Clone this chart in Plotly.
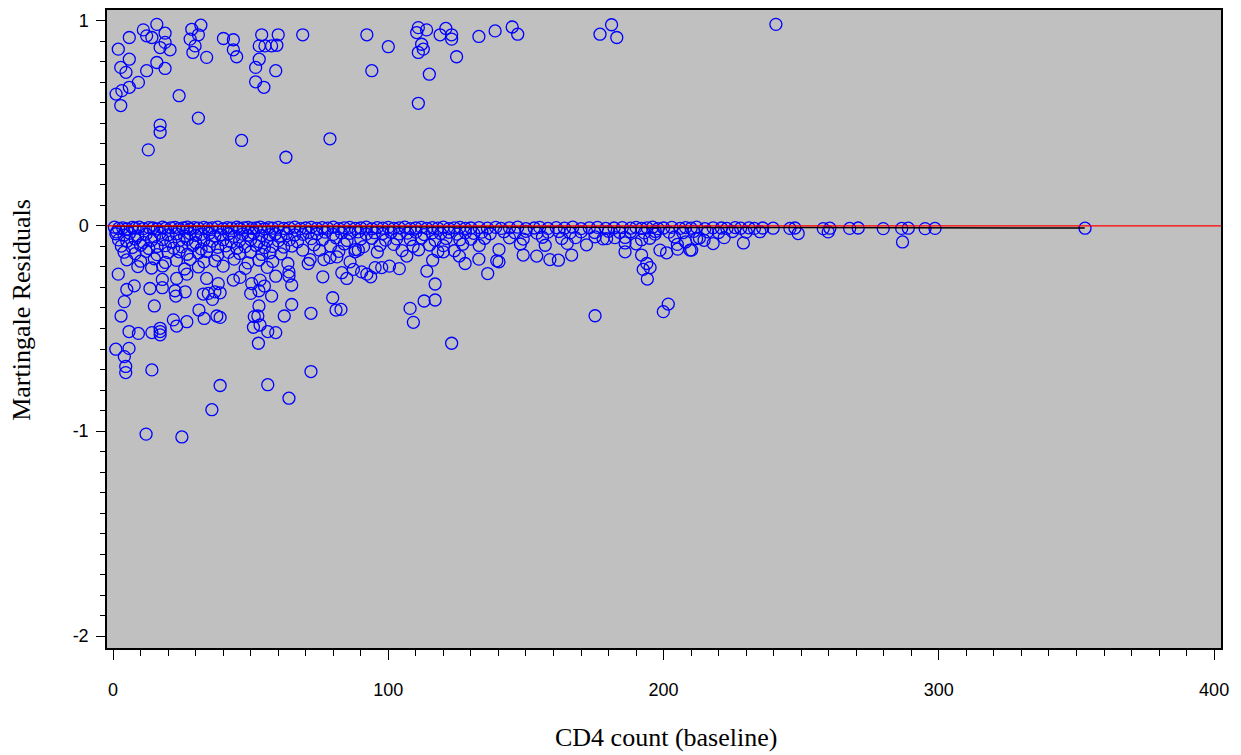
import plotly.graph_objects as go

# ---- positive residuals (events) ----
event_x = [1.9, 5.9, 5.9, 2.8, 4.7, 1.1, 3.2, 2.8, 5.9, 9.2, 12.2, 11.0, 12.2, 14.1, 15.9,
           18.9, 18.9, 17.1, 20.7, 15.9, 18.9, 24.0, 17.1, 17.1, 12.8, 28.6, 31.9, 31.0,
           28.0, 29.8, 29.0, 34.0, 31.0, 40.1, 43.7, 43.7, 44.9, 46.7, 54.0, 53.1, 55.2,
           57.6, 59.5, 60.0, 53.1, 51.8, 59.1, 51.8, 54.8, 68.9, 78.8, 62.8, 92.2, 94.0,
           100.0, 110.9, 110.3, 113.9, 112.1, 112.7, 110.9, 114.9, 110.9, 118.8, 120.9,
           123.0, 123.0, 124.8, 132.9, 138.8, 145.0, 147.0, 176.9, 181.1, 183.0, 240.8]
event_y = [0.862, 0.919, 0.813, 0.773, 0.749, 0.643, 0.660, 0.587, 0.676, 0.700, 0.757,
           0.956, 0.927, 0.919, 0.983, 0.940, 0.895, 0.870, 0.859, 0.797, 0.768, 0.635,
           0.492, 0.457, 0.371, 0.959, 0.979, 0.932, 0.911, 0.878, 0.846, 0.822, 0.526,
           0.914, 0.908, 0.859, 0.825, 0.417, 0.932, 0.878, 0.878, 0.878, 0.881, 0.932,
           0.813, 0.773, 0.757, 0.703, 0.676, 0.932, 0.425, 0.335, 0.932, 0.757, 0.874,
           0.967, 0.943, 0.956, 0.886, 0.862, 0.846, 0.740, 0.598, 0.932, 0.963, 0.932,
           0.911, 0.825, 0.924, 0.951, 0.970, 0.935, 0.935, 0.981, 0.919, 0.983]

# ---- scattered negative residuals (censored) ----
neg_x = [1.3, 1.9, 5.0, 7.7, 4.1, 2.9, 5.8, 9.2, 14.1, 17.1, 17.1, 17.1, 1.0, 5.8, 4.1, 4.6,
         4.6, 14.1, 15.0, 13.4, 17.9, 17.9, 23.1, 26.8, 22.5, 22.8, 26.2, 21.9, 23.1, 26.8,
         31.2, 33.1, 34.0, 32.8, 34.6, 36.1, 37.0, 38.2, 38.9, 37.7, 38.9, 38.9, 35.9, 25.0,
         12.0, 43.7, 46.1, 50.4, 53.4, 55.0, 53.0, 50.0, 57.6, 59.1, 53.0, 52.6, 51.3, 53.4,
         51.0, 56.2, 59.1, 52.8, 56.2, 63.9, 64.9, 62.2, 64.9, 63.9, 63.9, 63.5, 71.9, 71.9,
         79.8, 81.0, 82.8, 76.2, 70.9, 71.6, 68.9, 76.6, 78.8, 81.3, 83.1, 84.9, 87.3, 90.3,
         92.2, 93.6, 95.2, 97.6, 100.4, 104.0, 86.1, 87.9, 89.1, 107.9, 109.1, 113.0, 117.0,
         117.0, 114.0, 116.1, 123.0, 127.9, 132.9, 136.1, 139.4, 120.0, 125.8, 106.7, 149.0,
         153.9, 158.7, 161.8, 166.6, 140.2, 140.2, 175.1, 186.0, 186.0, 192.0, 193.9, 195.1,
         192.6, 194.1, 199.9, 201.7, 198.7, 201.1, 205.1, 209.6, 208.0, 175.1, 179.3, 182.3,
         192.0, 196.9, 210.2, 212.0, 214.7, 229.0, 286.8, 248.9, 259.8]
neg_y = [-0.029, -0.235, -0.310, -0.292, -0.369, -0.439, -0.515, -0.524, -0.520, -0.499,
         -0.515, -0.531, -0.601, -0.597, -0.637, -0.685, -0.715, -0.702, -0.390, -0.305,
         -0.261, -0.301, -0.256, -0.235, -0.316, -0.342, -0.321, -0.458, -0.488, -0.467,
         -0.410, -0.451, -0.256, -0.332, -0.329, -0.358, -0.321, -0.281, -0.326, -0.439,
         -0.446, -0.778, -0.896, -1.029, -1.015, -0.264, -0.251, -0.281, -0.264, -0.293,
         -0.316, -0.329, -0.342, -0.245, -0.390, -0.439, -0.442, -0.483, -0.494, -0.515,
         -0.520, -0.572, -0.774, -0.840, -0.383, -0.439, -0.288, -0.224, -0.245, -0.183,
         -0.426, -0.710, -0.350, -0.410, -0.407, -0.248, -0.183, -0.164, -0.118, -0.164,
         -0.154, -0.151, -0.228, -0.256, -0.212, -0.224, -0.235, -0.248, -0.203, -0.203,
         -0.196, -0.208, -0.175, -0.126, -0.118, -0.402, -0.470, -0.366, -0.361, -0.283,
         -0.220, -0.167, -0.572, -0.183, -0.162, -0.232, -0.170, -0.126, -0.147, -0.147,
         -0.142, -0.147, -0.164, -0.167, -0.142, -0.115, -0.175, -0.438, -0.083, -0.126,
         -0.142, -0.183, -0.203, -0.212, -0.259, -0.418, -0.381, -0.118, -0.131, -0.113,
         -0.118, -0.078, -0.053, -0.062, -0.057, -0.067, -0.040, -0.118, -0.062, -0.070,
         -0.083, -0.078, -0.037, -0.029]

# ---- dense band just below zero ----
band_x = [0.5, 2, 3.5, 5, 7, 8, 9.5, 11, 13, 14.5, 16, 18, 19, 21, 22.5, 24, 25.5, 27, 28,
          29.5, 31, 33, 34.5, 36, 38, 40, 41.5, 43, 45, 46, 47.5, 49, 50.5, 52, 53.5, 55,
          56.5, 58, 60, 62, 64, 66, 68, 70, 72, 74, 76, 78, 80, 82, 84, 86, 88, 90, 92, 94,
          96, 98, 100, 102, 104, 106, 108, 110, 112, 114, 116, 118, 120, 122, 124, 126, 128,
          130, 133, 136, 139, 141, 144, 147, 150, 153, 155, 158, 161, 164, 167, 170, 173,
          176, 179, 182, 185, 188, 190, 192, 194, 196, 198, 200, 203, 206, 208, 210, 212,
          215, 218, 221, 223, 226, 228, 231, 233, 236, 239.8, 245.9, 247.7, 258.0, 260.4,
          267.6, 270.7, 279.8, 286.5, 288.9, 295.0, 298.6, 353.1,
          1, 4, 6, 9, 12, 15, 17, 20, 23, 26, 28, 30, 32, 35, 37, 39, 42, 44, 47, 49, 51,
          54, 57, 59, 61, 63, 66, 69,
          2, 5, 8, 11, 14, 18, 21, 24, 27, 30, 33, 36, 40, 43, 46, 50, 53, 56, 60, 64, 67,
          3, 7, 10, 13, 16, 19, 22, 25, 29, 32, 35, 38, 41, 45, 48, 52, 55, 58, 62, 65,
          4, 8, 12, 16, 20, 24, 27, 31, 34, 38, 42, 46, 50, 54, 57, 61,
          5, 10, 15, 19, 23, 28, 33, 37, 44, 49, 53, 58,
          9, 14, 18, 26, 31, 40, 48, 56,
          71, 74, 77, 80, 83, 86, 89, 92, 95, 98, 101, 104, 107, 110, 113, 116, 119, 122,
          125, 128, 131, 134, 137,
          72, 76, 81, 85, 90, 94, 99, 103, 108, 112, 117, 121, 126, 130, 135,
          73, 79, 84, 91, 97, 102, 109, 115, 120, 127, 133,
          75, 82, 88, 96, 105, 111, 118, 124,
          142, 146, 150, 154, 158, 162, 166, 170, 175, 180, 184, 188, 193, 197, 202, 207,
          211, 216, 220, 225, 230, 235,
          144, 149, 156, 163, 168, 178, 186, 195, 204, 213, 222,
          148, 157, 165, 172, 190, 205, 218]
band_y = [-0.006, -0.012, -0.009, -0.015, -0.007, -0.011, -0.006, -0.013, -0.008, -0.010,
          -0.014, -0.006, -0.012, -0.009, -0.007, -0.013, -0.010, -0.006, -0.015, -0.008,
          -0.011, -0.007, -0.012, -0.009, -0.006, -0.014, -0.008, -0.011, -0.006, -0.013,
          -0.009, -0.007, -0.012, -0.010, -0.006, -0.014, -0.008, -0.011, -0.007, -0.012,
          -0.009, -0.006, -0.013, -0.010, -0.007, -0.012, -0.008, -0.011, -0.006, -0.013,
          -0.009, -0.007, -0.012, -0.010, -0.006, -0.014, -0.008, -0.011, -0.007, -0.012,
          -0.009, -0.006, -0.013, -0.010, -0.007, -0.012, -0.008, -0.011, -0.006, -0.013,
          -0.009, -0.007, -0.012, -0.010, -0.008, -0.011, -0.007, -0.012, -0.009, -0.006,
          -0.013, -0.010, -0.007, -0.012, -0.008, -0.011, -0.006, -0.013, -0.009, -0.007,
          -0.012, -0.010, -0.008, -0.011, -0.007, -0.012, -0.009, -0.006, -0.013, -0.010,
          -0.007, -0.012, -0.008, -0.011, -0.006, -0.013, -0.009, -0.010, -0.012, -0.008,
          -0.011, -0.009, -0.012, -0.010, -0.011, -0.012, -0.010, -0.013, -0.011, -0.012,
          -0.010, -0.013, -0.012, -0.011, -0.013, -0.012, -0.011,
          -0.038, -0.045, -0.036, -0.048, -0.040, -0.052, -0.035, -0.044, -0.039, -0.050,
          -0.037, -0.046, -0.041, -0.036, -0.049, -0.043, -0.038, -0.051, -0.040, -0.045,
          -0.036, -0.047, -0.042, -0.039, -0.050, -0.037, -0.044, -0.041,
          -0.068, -0.075, -0.064, -0.080, -0.070, -0.066, -0.078, -0.072, -0.065, -0.082,
          -0.069, -0.074, -0.067, -0.079, -0.071, -0.066, -0.076, -0.070, -0.073, -0.068,
          -0.077,
          -0.098, -0.105, -0.094, -0.110, -0.100, -0.096, -0.108, -0.102, -0.095, -0.112,
          -0.099, -0.104, -0.097, -0.109, -0.101, -0.095, -0.106, -0.100, -0.103, -0.098,
          -0.128, -0.135, -0.124, -0.140, -0.130, -0.126, -0.138, -0.132, -0.125, -0.142,
          -0.129, -0.134, -0.127, -0.139, -0.131, -0.136,
          -0.165, -0.172, -0.160, -0.178, -0.168, -0.163, -0.175, -0.170, -0.162, -0.180,
          -0.166, -0.173,
          -0.198, -0.205, -0.195, -0.210, -0.200, -0.196, -0.207, -0.202,
          -0.032, -0.038, -0.030, -0.041, -0.034, -0.036, -0.029, -0.040, -0.033, -0.037,
          -0.031, -0.039, -0.035, -0.030, -0.042, -0.034, -0.037, -0.031, -0.040, -0.033,
          -0.036, -0.030, -0.038,
          -0.062, -0.068, -0.058, -0.071, -0.064, -0.060, -0.069, -0.063, -0.066, -0.059,
          -0.070, -0.061, -0.067, -0.064, -0.060,
          -0.092, -0.098, -0.088, -0.101, -0.094, -0.090, -0.099, -0.093, -0.096, -0.089,
          -0.095,
          -0.118, -0.124, -0.115, -0.127, -0.120, -0.116, -0.125, -0.121,
          -0.028, -0.033, -0.026, -0.035, -0.030, -0.027, -0.034, -0.029, -0.032, -0.026,
          -0.031, -0.028, -0.034, -0.027, -0.030, -0.033, -0.026, -0.029, -0.032, -0.027,
          -0.030, -0.028,
          -0.058, -0.064, -0.055, -0.061, -0.057, -0.063, -0.056, -0.060, -0.054, -0.059,
          -0.057,
          -0.088, -0.094, -0.085, -0.092, -0.087, -0.090, -0.086]

# ---- smoother ----
smooth_x = [0, 50, 100, 150, 200, 250, 300, 353]
smooth_y = [-0.002, -0.004, -0.005, -0.006, -0.007, -0.008, -0.009, -0.010]

x_ticks = [0, 100, 200, 300, 400]
y_ticks = [-2, -1, 0, 1]

all_x = event_x + neg_x + band_x
all_y = event_y + neg_y + band_y

fig = go.Figure()
fig.add_trace(go.Scatter(
    x=all_x, y=all_y, mode="markers",
    marker=dict(symbol="circle-open", size=12, color="#0000FF",
                line=dict(width=1.3, color="#0000FF")),
    showlegend=False, hoverinfo="skip"))
fig.add_trace(go.Scatter(
    x=smooth_x, y=smooth_y, mode="lines",
    line=dict(color="black", width=1.5), showlegend=False, hoverinfo="skip"))
fig.add_hline(y=0, line=dict(color="#FF0000", width=1.2))

# page body has an 8px margin, so the figure is sized/offset to compensate
fig.update_layout(
    width=1233, height=747,
    margin=dict(l=99, r=20, t=0, b=107),
    paper_bgcolor="white", plot_bgcolor="#C0C0C0",
    font=dict(family="Liberation Sans, Arial, sans-serif", size=18, color="black"),
)
fig.update_xaxes(
    range=[-2.2, 402.5], tickvals=x_ticks, ticktext=[str(v) for v in x_ticks],
    showgrid=False, zeroline=False, showline=True, linecolor="black", linewidth=1.5,
    mirror=True, ticks="outside", ticklen=10, tickwidth=1, tickcolor="black",
    ticklabelstandoff=15,
    minor=dict(dtick=10, tick0=0, ticks="outside", ticklen=6, tickwidth=1,
               tickcolor="black", showgrid=False),
)
fig.update_yaxes(
    range=[-2.058, 1.053], tickvals=y_ticks, ticktext=[str(v) for v in y_ticks],
    showgrid=False, zeroline=False, showline=True, linecolor="black", linewidth=1.5,
    mirror=True, ticks="outside", ticklen=9, tickwidth=1, tickcolor="black",
    ticklabelstandoff=4,
    minor=dict(dtick=0.1, tick0=0, ticks="outside", ticklen=5, tickwidth=1,
               tickcolor="black", showgrid=False),
)
fig.add_annotation(text="CD4 count (baseline)", xref="paper", yref="paper",
                   x=0.502, y=-0.141, showarrow=False, xanchor="center", yanchor="middle",
                   font=dict(family="Liberation Serif, Times New Roman, serif", size=26))
fig.add_annotation(text="Martingale Residuals", xref="paper", yref="paper",
                   x=-0.0763, y=0.53, showarrow=False, xanchor="center", yanchor="middle",
                   textangle=-90,
                   font=dict(family="Liberation Serif, Times New Roman, serif", size=26))

fig.write_html("out.html")
